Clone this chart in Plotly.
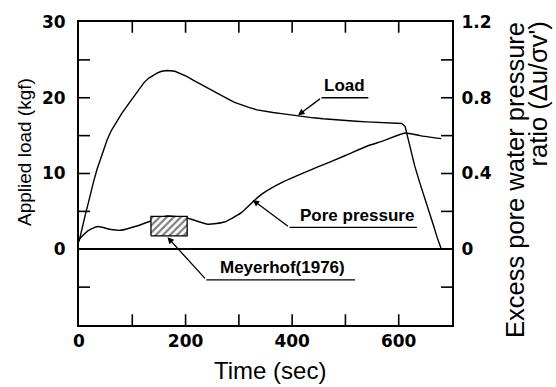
import plotly.graph_objects as go

# ---- data ----
load_t = [0, 4, 8, 12, 16, 22, 28, 34, 41, 47, 53, 61, 70, 80, 91, 100, 110, 122, 131, 140,
          148, 155, 166, 180, 191, 203, 215, 228, 242, 256, 270, 281, 292, 306, 320, 334,
          348, 364, 380, 394, 408, 424, 440, 458, 477, 498, 520, 540, 560, 584, 606, 612,
          621, 630, 639, 648, 656, 665, 672, 680]
load_kgf = [1.0, 2.3, 3.5, 4.6, 5.7, 7.5, 9.1, 10.6, 12.1, 13.4, 14.5, 15.7, 16.8, 17.9,
            19.0, 19.9, 20.9, 22.0, 22.6, 23.0, 23.3, 23.5, 23.6, 23.5, 23.2, 22.8, 22.3,
            21.8, 21.2, 20.7, 20.2, 19.8, 19.4, 19.0, 18.7, 18.4, 18.2, 18.05, 17.9, 17.75,
            17.6, 17.47, 17.35, 17.22, 17.1, 17.0, 16.9, 16.82, 16.75, 16.67, 16.6, 16.2,
            13.6, 11.0, 8.9, 7.0, 5.2, 3.2, 1.6, 0.0]

pore_t = [0, 16, 35, 60, 78, 110, 141, 166, 204, 242, 273, 304, 330, 345, 383, 446, 500,
          540, 571, 612, 640, 680]
pore_ratio = [0.052, 0.096, 0.120, 0.104, 0.100, 0.124, 0.156, 0.176, 0.164, 0.132, 0.144,
              0.192, 0.260, 0.295, 0.356, 0.432, 0.495, 0.544, 0.572, 0.614, 0.600, 0.584]

meyerhof_t = [135, 203]
meyerhof_ratio = [0.071, 0.174]

x_ticks = [0, 200, 400, 600]
x_minor = [100, 300, 500]
y_ticks = [0, 10, 20, 30]
y_minor = [-5, 5, 15, 25]
y2_ticks = [0, 0.4, 0.8, 1.2]
y2_minor = [-0.2, 0.2, 0.6, 1.0]

X_RANGE = [0, 700]
Y_RANGE = [-10, 30]
Y2_RANGE = [-0.4, 1.2]

# ---- figure ----
W, H = 556, 387
L, R, T, B = 79, 104, 15, 62
pw, ph = W - L - R, H - T - B
TICKLEN = 11  # px


def px(xp):
    return (xp - L) / pw


def py(yp):
    return (H - B - yp) / ph


fig = go.Figure()
fig.add_trace(go.Scatter(x=load_t, y=load_kgf, mode="lines",
                         line=dict(color="black", width=1.4),
                         showlegend=False, yaxis="y"))
fig.add_trace(go.Scatter(x=pore_t, y=pore_ratio, mode="lines",
                         line=dict(color="black", width=1.4, shape="spline", smoothing=0.5),
                         showlegend=False, yaxis="y2"))
bx = [meyerhof_t[0], meyerhof_t[1], meyerhof_t[1], meyerhof_t[0], meyerhof_t[0]]
by = [meyerhof_ratio[0], meyerhof_ratio[0], meyerhof_ratio[1], meyerhof_ratio[1], meyerhof_ratio[0]]
fig.add_trace(go.Scatter(x=bx, y=by, mode="lines", fill="toself",
                         fillcolor="white",
                         fillpattern=dict(shape="/", size=5, solidity=0.45,
                                          fgcolor="black", bgcolor="white"),
                         line=dict(color="black", width=1.3),
                         showlegend=False, yaxis="y2"))

# inside tick marks drawn as a line trace at the axis tick values
dx = TICKLEN * (X_RANGE[1] - X_RANGE[0]) / pw
dy = TICKLEN * (Y_RANGE[1] - Y_RANGE[0]) / ph
dy2 = TICKLEN * (Y2_RANGE[1] - Y2_RANGE[0]) / ph
tx, ty = [], []
for v in sorted(x_ticks[1:] + x_minor):
    tx += [v, v, None, v, v, None]
    ty += [Y_RANGE[0], Y_RANGE[0] + dy, None, Y_RANGE[1], Y_RANGE[1] - dy, None]
for v in sorted(y_ticks[1:3] + y_minor):
    tx += [X_RANGE[0], X_RANGE[0] + dx, None]
    ty += [v, v, None]
fig.add_trace(go.Scatter(x=tx, y=ty, mode="lines", line=dict(color="black", width=1.6),
                         showlegend=False, hoverinfo="skip", yaxis="y", cliponaxis=False))
t2x, t2y = [], []
for v in sorted(y2_ticks[1:3] + y2_minor):
    t2x += [X_RANGE[1], X_RANGE[1] - dx, None]
    t2y += [v, v, None]
fig.add_trace(go.Scatter(x=t2x, y=t2y, mode="lines", line=dict(color="black", width=1.6),
                         showlegend=False, hoverinfo="skip", yaxis="y2", cliponaxis=False))

tickfont = dict(family="DejaVu Sans", size=17, color="black", weight="bold")
axis_common = dict(showgrid=False, showline=True, linecolor="black", linewidth=2,
                   ticks="", tickfont=tickfont)

fig.update_layout(
    width=W, height=H,
    margin=dict(l=L, r=R, t=T, b=B),
    paper_bgcolor="white", plot_bgcolor="rgba(0,0,0,0)",
    xaxis=dict(range=X_RANGE, tickmode="array", tickvals=x_ticks, mirror=True,
               zeroline=False, ticklabelstandoff=0, **axis_common),
    yaxis=dict(range=Y_RANGE, tickmode="array", tickvals=y_ticks, mirror=True,
               zeroline=True, zerolinecolor="black", zerolinewidth=2, ticklabelstandoff=8,
               **axis_common),
    yaxis2=dict(range=Y2_RANGE, overlaying="y", side="right", tickmode="array",
                tickvals=y2_ticks, zeroline=False, ticklabelstandoff=4, **axis_common),
)

title_font = dict(family="Liberation Sans, Arial", size=19, color="black")
ann_font = dict(family="Liberation Sans, Arial", size=17, color="black", weight="bold")

annotations = [
    dict(text="Applied load (kgf)", xref="paper", yref="paper", x=px(25), y=py(148),
         textangle=-90, showarrow=False, font=title_font, xanchor="center", yanchor="middle"),
    dict(text="Time (sec)", xref="paper", yref="paper", x=px(270), y=py(372),
         showarrow=False, font=dict(title_font, size=24), xanchor="center", yanchor="middle"),
    dict(text="Excess pore water pressure", xref="paper", yref="paper", x=px(515), y=py(13),
         textangle=-90, showarrow=False, font=dict(title_font, size=25.5),
         xanchor="center", yanchor="top"),
    dict(text="ratio (Δu/σv')", xref="paper", yref="paper", x=px(538), y=py(13),
         textangle=-90, showarrow=False, font=dict(title_font, size=25.5),
         xanchor="center", yanchor="top"),
    dict(text="Load", x=498, y=21.6, xref="x", yref="y", showarrow=False, font=ann_font),
    dict(text="Pore pressure", x=522, y=4.4, xref="x", yref="y", showarrow=False, font=ann_font),
    dict(text="Meyerhof(1976)", x=382, y=-2.4, xref="x", yref="y", showarrow=False, font=ann_font),
    dict(text="", x=411, y=17.7, ax=455, ay=20.0, xref="x", yref="y", axref="x", ayref="y",
         showarrow=True, arrowhead=2, arrowsize=1, arrowwidth=1.3, arrowcolor="black"),
    dict(text="", x=326, y=6.5, ax=395, ay=2.9, xref="x", yref="y", axref="x", ayref="y",
         showarrow=True, arrowhead=2, arrowsize=1, arrowwidth=1.3, arrowcolor="black"),
    dict(text="", x=166, y=1.6, ax=239, ay=-4.05, xref="x", yref="y", axref="x", ayref="y",
         showarrow=True, arrowhead=2, arrowsize=1, arrowwidth=1.3, arrowcolor="black"),
]
fig.update_layout(annotations=annotations)

underlines = [(455, 543, 20.0), (395, 634, 2.9), (239, 518, -4.05)]
for x0, x1, yy in underlines:
    fig.add_shape(type="line", x0=x0, x1=x1, y0=yy, y1=yy, xref="x", yref="y",
                  line=dict(color="black", width=1.3))

fig.write_html("out.html")
